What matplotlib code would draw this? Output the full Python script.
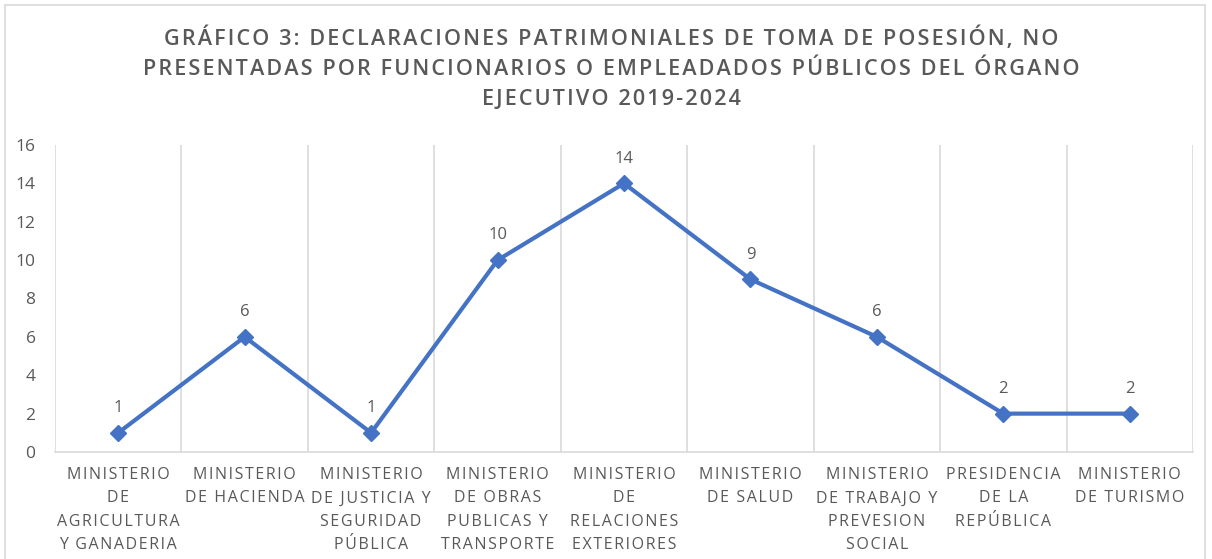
import numpy as np
import matplotlib.pyplot as plt
from matplotlib.patches import Rectangle

# data
categories = [
    "MINISTERIO\nDE\nAGRICULTURA\nY GANADERIA",
    "MINISTERIO\nDE HACIENDA",
    "MINISTERIO\nDE JUSTICIA Y\nSEGURIDAD\nPÚBLICA",
    "MINISTERIO\nDE OBRAS\nPUBLICAS Y\nTRANSPORTE",
    "MINISTERIO\nDE\nRELACIONES\nEXTERIORES",
    "MINISTERIO\nDE SALUD",
    "MINISTERIO\nDE TRABAJO Y\nPREVESION\nSOCIAL",
    "PRESIDENCIA\nDE LA\nREPÚBLICA",
    "MINISTERIO\nDE TURISMO",
]
values = [1, 6, 1, 10, 14, 9, 6, 2, 2]
yticks = [0, 2, 4, 6, 8, 10, 12, 14, 16]

title = ("GRÁFICO 3: DECLARACIONES PATRIMONIALES DE TOMA DE POSESIÓN, NO\n"
         "PRESENTADAS POR FUNCIONARIOS O EMPLEADADOS PÚBLICOS DEL ÓRGANO\n"
         "EJECUTIVO 2019-2024")


def spaced(s):
    # fake letter spacing with hair spaces
    return "\n".join("\u200a".join(line) for line in s.split("\n"))


plt.rcParams['font.family'] = ['Open Sans', 'DejaVu Sans']
gray = '#595959'
blue = '#4472C4'
W, H = 1212, 559

fig = plt.figure(figsize=(W/100, H/100), dpi=100)
fig.patches.append(Rectangle((5/W, -0.01), 1200/W, 1 - 5/H + 0.01, transform=fig.transFigure,
                             fill=False, edgecolor='#d9d9d9', lw=1.2))

ax = fig.add_axes([55/W, 1 - 452/H, (1193 - 55)/W, (452 - 145)/H])
x = np.arange(len(values))
ax.plot(x, values, color=blue, lw=3, marker='D', ms=8, zorder=3)
for xi, v in zip(x, values):
    ax.annotate(str(v), (xi, v), xytext=(0, 12), textcoords='offset points',
                ha='center', va='bottom', fontsize=12, color=gray)

ax.set_xlim(-0.5, len(values) - 0.5)
ax.set_ylim(0, 16)
ax.set_yticks(yticks)
ax.set_xticks(x)
ax.set_xticklabels([spaced(c) for c in categories], fontsize=11.5, color=gray, linespacing=1.6)
ax.tick_params(axis='y', labelsize=12.5, labelcolor=gray, length=0, pad=14)
ax.tick_params(axis='x', length=0, pad=11)
for b in np.arange(-0.5, len(values), 1.0):
    ax.axvline(b, color='#d9d9d9', lw=1.2, zorder=1)
for s in ['top', 'right', 'left']:
    ax.spines[s].set_visible(False)
ax.spines['bottom'].set_color('#d9d9d9')
ax.spines['bottom'].set_linewidth(1.2)

fig.text(0.5 + 5/W, 1 - 27/H, spaced(title), ha='center', va='top', fontsize=15.6,
         fontweight='semibold', color=gray, linespacing=1.55)

fig.savefig('out.png', dpi=100, facecolor='white')
